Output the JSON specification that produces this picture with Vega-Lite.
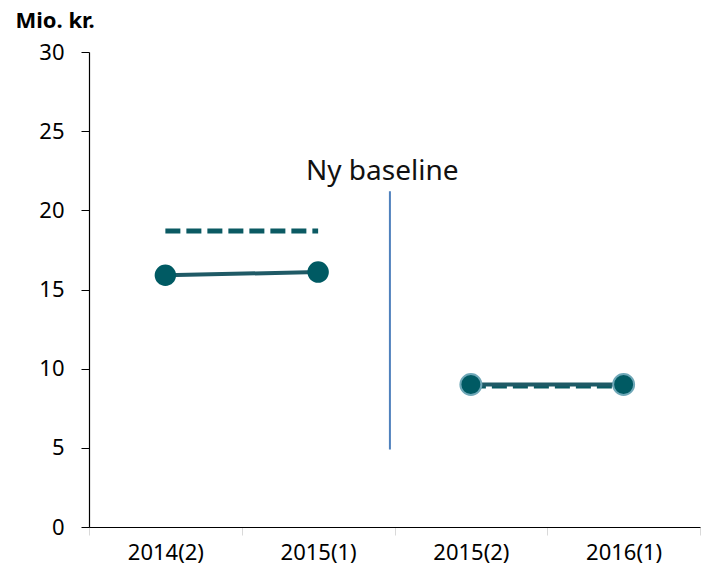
{
  "$schema": "https://vega.github.io/schema/vega-lite/v6.json",
  "width": 611,
  "height": 475,
  "autosize": "none",
  "padding": {"left": 89, "top": 52, "right": 10, "bottom": 51},
  "background": "white",
  "config": {
    "view": {"stroke": null},
    "font": "Noto Sans"
  },
  "data": {
    "values": [
      {"period": "2014(2)", "value": 15.9, "kind": "actual", "seg": "A"},
      {"period": "2015(1)", "value": 16.1, "kind": "actual", "seg": "A"},
      {"period": "2014(2)", "value": 18.7, "kind": "planned", "seg": "A"},
      {"period": "2015(1)", "value": 18.7, "kind": "planned", "seg": "A"},
      {"period": "2015(2)", "value": 9.0, "kind": "actual", "seg": "B"},
      {"period": "2016(1)", "value": 9.0, "kind": "actual", "seg": "B"},
      {"period": "2015(2)", "value": 8.9, "kind": "planned", "seg": "B"},
      {"period": "2016(1)", "value": 8.9, "kind": "planned", "seg": "B"}
    ]
  },
  "encoding": {
    "x": {
      "field": "period",
      "type": "ordinal",
      "sort": ["2014(2)", "2015(1)", "2015(2)", "2016(1)"],
      "scale": {"type": "band", "domain": ["2014(2)", "2015(1)", "2015(2)", "2016(1)"], "paddingInner": 0, "paddingOuter": 0},
      "axis": {
        "title": null,
        "labelAngle": 0,
        "labelFontSize": 22,
        "labelColor": "#000000",
        "labelPadding": 7,
        "domainColor": "#000000",
        "domainWidth": 1.2,
        "tickBand": "extent",
        "tickColor": "#d9d9d9",
        "tickSize": 8,
        "grid": false
      }
    },
    "y": {
      "field": "value",
      "type": "quantitative",
      "scale": {"domain": [0, 30], "nice": false, "zero": true},
      "axis": {
        "values": [0, 5, 10, 15, 20, 25, 30],
        "grid": false,
        "title": "Mio. kr.",
        "titleAngle": 0,
        "titleAlign": "left",
        "titleBaseline": "alphabetic",
        "titleX": -74,
        "titleY": -25,
        "titleFontSize": 22,
        "titleFontWeight": "bold",
        "titleColor": "#000000",
        "labelFontSize": 22,
        "labelColor": "#000000",
        "labelPadding": 17,
        "domainColor": "#000000",
        "domainWidth": 1.2,
        "tickColor": "#000000",
        "tickSize": 8
      }
    }
  },
  "layer": [
    {
      "transform": [{"filter": "datum.kind == 'planned'"}],
      "mark": {"type": "line", "color": "#0b5a63", "strokeWidth": 5, "strokeDash": [15, 6]},
      "encoding": {"detail": {"field": "seg"}}
    },
    {
      "transform": [{"filter": "datum.kind == 'actual'"}],
      "mark": {"type": "line", "color": "#1f5a66", "strokeWidth": 4},
      "encoding": {"detail": {"field": "seg"}}
    },
    {
      "transform": [{"filter": "datum.kind == 'actual' && datum.seg == 'A'"}],
      "mark": {"type": "circle", "color": "#005a63", "opacity": 1, "size": 460}
    },
    {
      "transform": [{"filter": "datum.kind == 'actual' && datum.seg == 'B'"}],
      "mark": {"type": "circle", "color": "#005a63", "opacity": 1, "size": 440, "stroke": "#6fa8b8", "strokeWidth": 2}
    },
    {
      "data": {"values": [{"period": "2015(1)", "y1": 4.9, "y2": 21.2}]},
      "mark": {"type": "rule", "color": "#4f81bd", "strokeWidth": 2},
      "encoding": {
        "x": {"field": "period", "type": "ordinal", "bandPosition": 0.97},
        "y": {"field": "y1", "type": "quantitative"},
        "y2": {"field": "y2"}
      }
    },
    {
      "data": {"values": [{"period": "2015(1)", "yt": 22.4, "label": "Ny baseline"}]},
      "mark": {"type": "text", "fontSize": 28, "color": "#111111", "align": "center", "baseline": "middle"},
      "encoding": {
        "x": {"field": "period", "type": "ordinal", "bandPosition": 0.92},
        "y": {"field": "yt", "type": "quantitative"},
        "text": {"field": "label"}
      }
    }
  ]
}
